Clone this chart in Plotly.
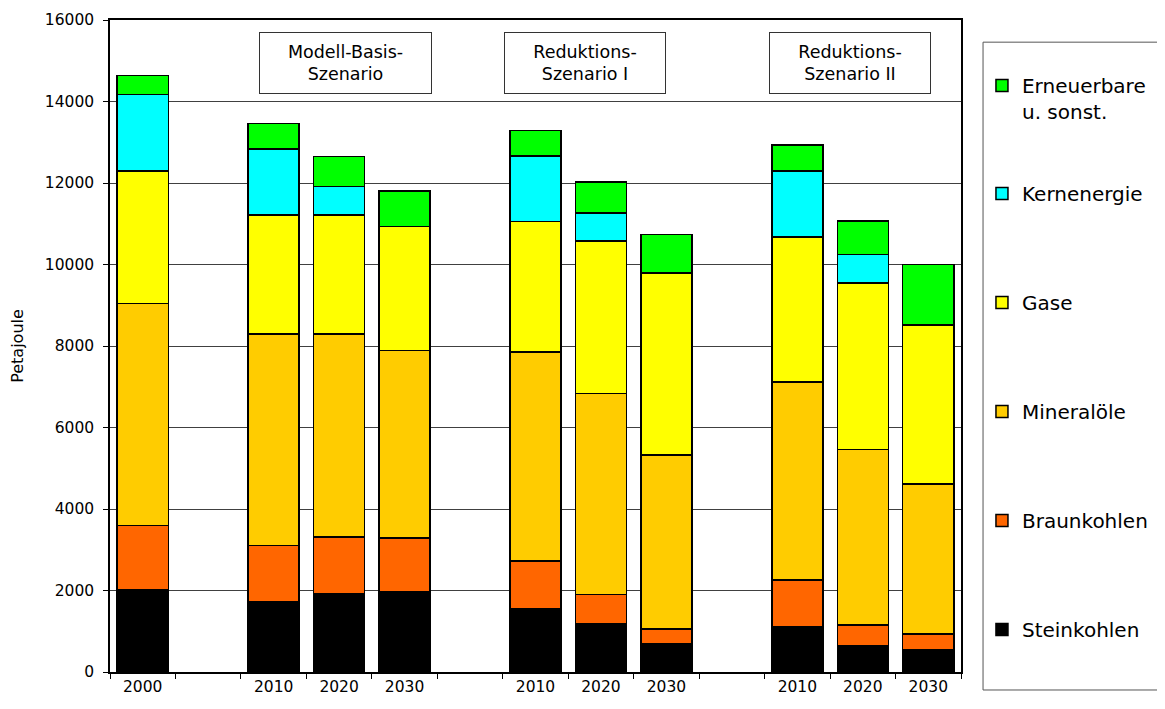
"""Primärenergieverbrauch nach Energieträgern und Szenarien."""
import plotly.graph_objects as go

# bar identifiers (one per bar) and the year shown below each
bar_keys = ["2000", "MB2010", "MB2020", "MB2030",
            "R1_2010", "R1_2020", "R1_2030",
            "R2_2010", "R2_2020", "R2_2030"]
bar_years = ["2000", "2010", "2020", "2030",
             "2010", "2020", "2030",
             "2010", "2020", "2030"]
# empty slots between the scenario groups
slot_order = ["2000", "gap1", "MB2010", "MB2020", "MB2030", "gap2",
              "R1_2010", "R1_2020", "R1_2030", "gap3",
              "R2_2010", "R2_2020", "R2_2030"]

# Petajoule
steinkohlen = [2030, 1720, 1930, 1960, 1560, 1180, 690, 1120, 640, 540]
braunkohlen = [1570, 1380, 1380, 1330, 1160, 720, 370, 1140, 510, 390]
mineraloele = [5440, 5190, 4980, 4600, 5130, 4940, 4270, 4860, 4310, 3680]
gase = [3260, 2930, 2930, 3040, 3200, 3740, 4460, 3560, 4090, 3900]
kernenergie = [1870, 1620, 690, 0, 1610, 690, 0, 1620, 690, 0]
erneuerbare = [470, 620, 740, 870, 630, 760, 950, 630, 830, 1490]

scenarios = ["Modell-Basis-<br>Szenario", "Reduktions-<br>Szenario I",
             "Reduktions-<br>Szenario II"]

# (name, values, colour, legend) - the two-line entry gets its own legend
series = [
    ("Steinkohlen", steinkohlen, "#000000", "legend"),
    ("Braunkohlen", braunkohlen, "#FF6600", "legend"),
    ("Mineralöle", mineraloele, "#FFCC00", "legend"),
    ("Gase", gase, "#FFFF00", "legend"),
    ("Kernenergie", kernenergie, "#00FFFF", "legend"),
    ("Erneuerbare<br>u. sonst.", erneuerbare, "#00FF00", "legend2"),
]

FONT = "DejaVu Sans"

fig = go.Figure()
for i, (name, vals, color, leg) in enumerate(series):
    fig.add_bar(x=bar_keys, y=vals, name=name, legendgroup=name,
                legend=leg, legendrank=100 - i,
                marker=dict(color=color, line=dict(color="#000000", width=1.5)),
                width=0.78)

tick_text = {k: y for k, y in zip(bar_keys, bar_years)}

legend_style = dict(xref="container", yref="container", x=0.8418,
                    xanchor="left", yanchor="top", traceorder="grouped",
                    tracegroupgap=80, valign="top", maxheight=650,
                    font=dict(size=20, family=FONT),
                    bgcolor="rgba(0,0,0,0)", borderwidth=0)

# page body adds an 8px offset, so the figure is sized to fit the window
fig.update_layout(
    barmode="stack",
    width=1157, height=701,
    margin=dict(l=102, r=204, t=12, b=37),
    paper_bgcolor="white", plot_bgcolor="white",
    font=dict(family=FONT, size=15.5, color="#000000"),
    showlegend=True,
    legend=dict(y=0.7632, **legend_style),
    legend2=dict(y=0.9173, **legend_style),
)

fig.update_xaxes(
    type="category", categoryorder="array", categoryarray=slot_order,
    range=[-0.5, len(slot_order) - 0.5],
    tickmode="array", tickvals=slot_order,
    ticktext=[tick_text.get(s, "") for s in slot_order],
    tickson="boundaries", ticks="outside", ticklen=5, tickcolor="#000000",
    showgrid=False, showline=True, linecolor="#000000", linewidth=1.5,
    mirror=True, automargin=False,
)
fig.update_yaxes(
    range=[0, 16000], dtick=2000, tickformat="d", ticks="outside", ticklen=5,
    tickcolor="#000000", ticklabelstandoff=6,
    showgrid=True, gridcolor="#404040", gridwidth=1,
    showline=True, linecolor="#000000", linewidth=1.5, mirror=True,
    zeroline=False, automargin=False,
    title=dict(text="Petajoule", font=dict(size=16), standoff=36),
)

# scenario labels in framed boxes
for txt, xc, w in zip(scenarios, [0.2767, 0.558, 0.870], [169, 158, 158]):
    fig.add_annotation(text=txt, xref="paper", yref="paper", x=xc, y=0.934,
                       xanchor="center", yanchor="middle",
                       showarrow=False, width=w, height=58, align="center",
                       valign="middle", bordercolor="#333333", borderwidth=1,
                       font=dict(size=17.5, family=FONT))

# legend frame
fig.add_shape(type="rect", xref="paper", yref="paper",
              x0=1.0259, x1=1.26, y0=-0.0276, y1=0.966,
              line=dict(color="#555555", width=1))

fig.write_html("out.html")
